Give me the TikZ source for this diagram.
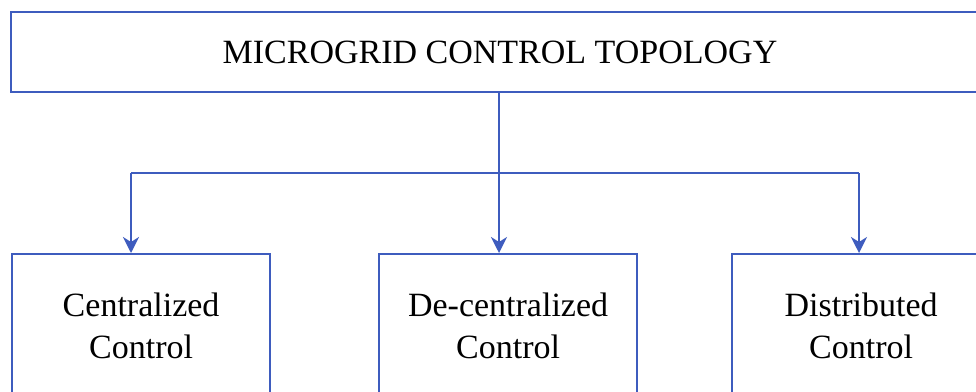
\documentclass[tikz,border=0pt]{standalone}
\usepackage{fontspec}
\setmainfont{Liberation Serif}
\usetikzlibrary{arrows.meta}
\definecolor{topoblue}{RGB}{62,92,190}
\begin{document}
\begin{tikzpicture}[x=1pt,y=-1pt,
  box/.style={draw=topoblue, line width=2.2pt, inner sep=0pt, align=center,
    font=\fontsize{34}{42}\selectfont},
  link/.style={draw=topoblue, line width=2.2pt},
  tip/.style={-{Stealth[length=16pt,width=16pt,inset=5pt]}}]
\useasboundingbox (0,0) rectangle (976,391);
\clip (0,0) rectangle (976,391);
% title box
\node[box, minimum width=978pt, minimum height=80pt] (top) at (500,52) {MICROGRID CONTROL TOPOLOGY};
% the three control types
\node[box, minimum width=258pt, minimum height=144pt, anchor=north west] (cen) at (11,253) {Centralized\\Control};
\node[box, minimum width=258pt, minimum height=144pt, anchor=north west] (dec) at (378,253) {De-centralized\\Control};
\node[box, minimum width=258pt, minimum height=144pt, anchor=north west] (dis) at (731,253) {Distributed\\Control};
% branching connectors
\coordinate (hub) at (499,173);
\coordinate (hl) at (131,173);
\coordinate (hr) at (859,173);
\draw[link,tip] (hub |- top.south) -- (hub |- dec.north);
\draw[link] (hl) -- (hr);
\draw[link,tip] (hl) -- (hl |- cen.north);
\draw[link,tip] (hr) -- (hr |- dis.north);
\end{tikzpicture}
\end{document}
